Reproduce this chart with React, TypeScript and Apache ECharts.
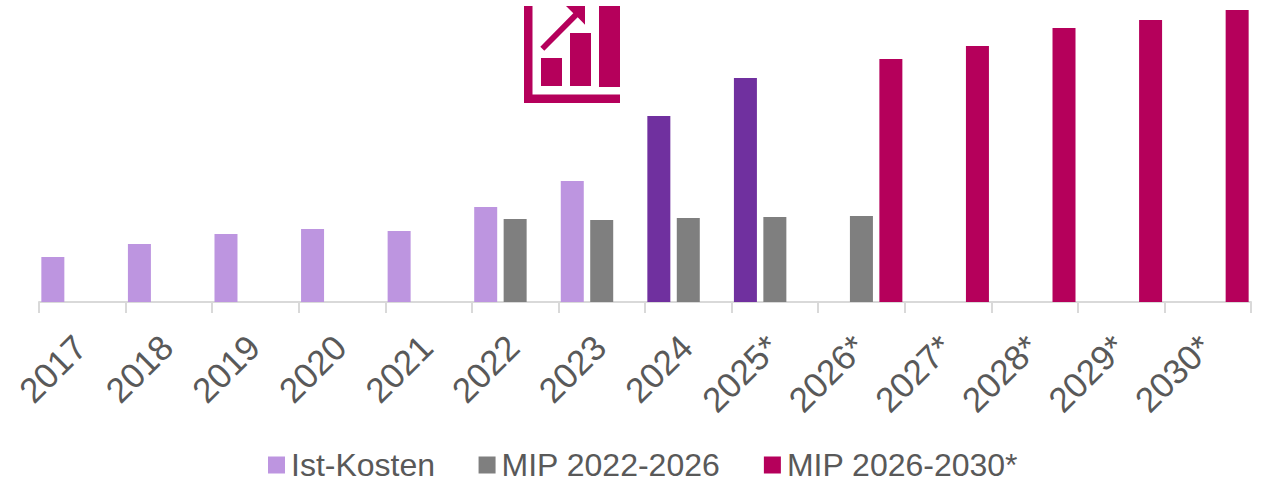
import React, { useEffect, useRef } from "react";
import * as echarts from "echarts";

const years = ["2017", "2018", "2019", "2020", "2021", "2022", "2023", "2024", "2025*", "2026*", "2027*", "2028*", "2029*", "2030*"];
const istKosten = [45, 58, 68, 73, 71, 95, 121, 186, 224, null, null, null, null, null];
const mip2226 = [null, null, null, null, null, 83, 82, 84, 85, 86, null, null, null, null];
const mip2630 = [null, null, null, null, null, null, null, null, null, 243, 256, 274, 282, 292];
const darkYears = ["2024", "2025*"];

const LIGHT = "#bd95e0";
const DARK = "#70309f";
const GRAY = "#7f7f7f";
const MAGENTA = "#b5005b";
const TEXT = "#595959";
const AXIS = "#d9d9d9";

export default function App() {
  const ref = useRef<HTMLDivElement>(null);
  useEffect(() => {
    const chart = echarts.init(ref.current!, undefined, { renderer: "svg" });
    const bar = { type: "bar", barWidth: 23, barGap: "28%" };
    chart.setOption({
      animation: false,
      textStyle: { fontFamily: "Liberation Sans" },
      grid: { left: 39, right: 17, top: 10, height: 292 },
      legend: {
        left: 268,
        top: 449,
        padding: 0,
        icon: "rect",
        itemWidth: 17,
        itemHeight: 17,
        itemGap: 43.5,
        textStyle: { color: TEXT, fontSize: 32, fontFamily: "Liberation Sans", padding: [0, 0, 0, 1] },
        data: ["Ist-Kosten", "MIP 2022-2026", "MIP 2026-2030*"],
      },
      xAxis: {
        type: "category",
        data: years,
        axisLine: { lineStyle: { color: AXIS, width: 2 } },
        axisTick: { show: true, length: 11, lineStyle: { color: AXIS, width: 2 } },
        axisLabel: { rotate: 45, fontSize: 35, color: TEXT, margin: 37, interval: 0, padding: [0, 3, 0, 0] },
      },
      yAxis: { type: "value", min: 0, max: 292, show: false, splitLine: { show: false } },
      series: [
        {
          ...bar,
          name: "Ist-Kosten",
          itemStyle: { color: LIGHT },
          data: istKosten.map((v, i) => (darkYears.includes(years[i]) ? { value: v, itemStyle: { color: DARK } } : v)),
        },
        { ...bar, name: "MIP 2022-2026", itemStyle: { color: GRAY }, data: mip2226 },
        { ...bar, name: "MIP 2026-2030*", itemStyle: { color: MAGENTA }, data: mip2630 },
      ],
      graphic: [
        { type: "rect", shape: { x: 524, y: 6, width: 8.5, height: 97 }, style: { fill: MAGENTA } },
        { type: "rect", shape: { x: 524, y: 94.5, width: 96, height: 8.5 }, style: { fill: MAGENTA } },
        { type: "rect", shape: { x: 541, y: 58, width: 21, height: 28 }, style: { fill: MAGENTA } },
        { type: "rect", shape: { x: 570, y: 33, width: 21, height: 53 }, style: { fill: MAGENTA } },
        { type: "rect", shape: { x: 599, y: 6, width: 21, height: 81 }, style: { fill: MAGENTA } },
        {
          type: "polygon",
          shape: { points: [[566, 6], [585, 6], [585, 24.7], [577.7, 17.3], [544.3, 50.7], [540.3, 46.7], [573.3, 13.3]] },
          style: { fill: MAGENTA },
        },
      ],
    });
    return () => chart.dispose();
  }, []);
  return <div ref={ref} style={{ position: "absolute", left: 0, top: 0, width: 1268, height: 482 }} />;
}
